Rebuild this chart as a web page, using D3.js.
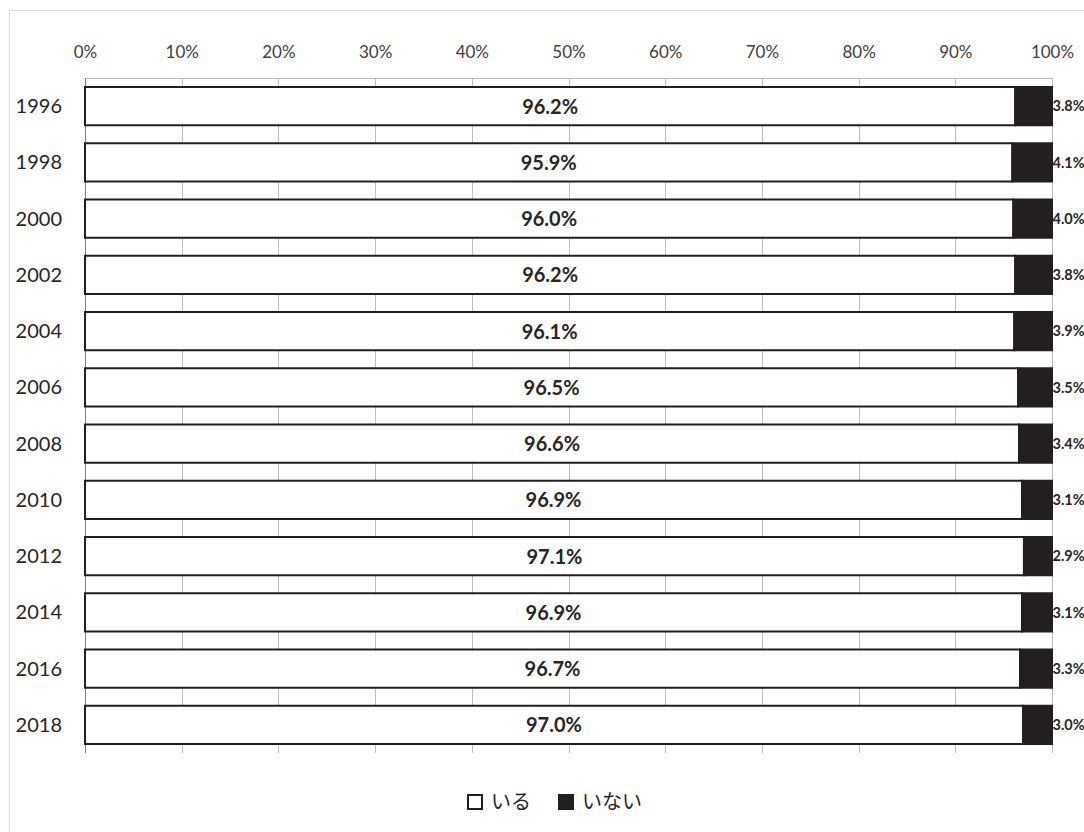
<!DOCTYPE html>
<html><head><meta charset="utf-8">
<script src="https://cdn.jsdelivr.net/npm/d3@7"></script>
<style>body{margin:0;background:#fff}svg{display:block}</style>
</head><body>
<svg id="c" width="1084" height="832"></svg>
<script>
const years = ["1996","1998","2000","2002","2004","2006","2008","2010","2012","2014","2016","2018"];
const iru = [96.2,95.9,96.0,96.2,96.1,96.5,96.6,96.9,97.1,96.9,96.7,97.0];
const inai = [3.8,4.1,4.0,3.8,3.9,3.5,3.4,3.1,2.9,3.1,3.3,3.0];
const seriesNames = ["いる","いない"];
const tickValues = [0,10,20,30,40,50,60,70,80,90,100];

const svg = d3.select("#c");
const font = "Lato, 'Noto Sans CJK JP', sans-serif";
const dark = "#231f20";

svg.append("rect").attr("x",9.5).attr("y",10.5).attr("width",1200).attr("height",900)
  .attr("fill","#fff").attr("stroke","#d9d9d9").attr("stroke-width",1);

const x = d3.scaleLinear().domain([0,100]).range([85,1052]);
const y = d3.scaleBand().domain(years).range([78,753]).paddingInner(0.32).paddingOuter(0.16);

// gridlines
svg.append("g").selectAll("line").data(tickValues).join("line")
  .attr("x1",d=>Math.round(x(d))+0.5).attr("x2",d=>Math.round(x(d))+0.5)
  .attr("y1",78).attr("y2",753).attr("stroke","#bfbfbf").attr("stroke-width",1);
svg.append("line").attr("x1",85).attr("x2",1052).attr("y1",78.5).attr("y2",78.5)
  .attr("stroke","#bfbfbf");
svg.append("line").attr("x1",85.5).attr("x2",85.5).attr("y1",78).attr("y2",753)
  .attr("stroke","#7f7f7f");

// top tick labels
const ax = d3.axisTop(x).tickValues(tickValues).tickFormat(d=>d+"%").tickSize(0).tickPadding(0);
const axg = svg.append("g").attr("transform","translate(0,58)").call(ax);
axg.select(".domain").remove();
axg.selectAll("text").attr("font-family",font).attr("font-size",17).attr("fill","#404040").attr("dy",0);

// year labels
const ay = d3.axisLeft(y).tickSize(0).tickPadding(0);
const ayg = svg.append("g").attr("transform","translate(62,0)").call(ay);
ayg.select(".domain").remove();
ayg.selectAll("text").attr("font-family",font).attr("font-size",20).attr("fill","#262626").attr("dy","0.35em");

const data = years.map((yr,i)=>({yr, a:iru[i], b:inai[i]}));
const g = svg.append("g");
g.selectAll("rect.a").data(data).join("rect").attr("class","a")
  .attr("x",x(0)).attr("y",d=>y(d.yr)).attr("width",d=>x(d.a)-x(0)).attr("height",y.bandwidth())
  .attr("fill","#fff").attr("stroke",dark).attr("stroke-width",2);
g.selectAll("rect.b").data(data).join("rect").attr("class","b")
  .attr("x",d=>x(d.a)).attr("y",d=>y(d.yr)).attr("width",d=>x(d.a+d.b)-x(d.a)).attr("height",y.bandwidth())
  .attr("fill",dark).attr("stroke",dark).attr("stroke-width",2);

g.selectAll("text.a").data(data).join("text").attr("class","a")
  .attr("x",d=>(x(0)+x(d.a))/2).attr("y",d=>y(d.yr)+y.bandwidth()/2).attr("dy","0.38em")
  .attr("text-anchor","middle").attr("font-family",font).attr("font-weight","bold").attr("font-size",20)
  .attr("fill","#262626").text(d=>d.a.toFixed(1)+"%");
g.selectAll("text.b").data(data).join("text").attr("class","b")
  .attr("x",x(100)+0.5).attr("y",d=>y(d.yr)+y.bandwidth()/2).attr("dy","0.36em")
  .attr("text-anchor","start").attr("font-family",font).attr("font-weight","bold").attr("font-size",14.5)
  .attr("fill","#262626").text(d=>d.b.toFixed(1)+"%");

// legend
const leg = svg.append("g");
const legItems = [{name:seriesNames[0],fill:"#fff",x:468},{name:seriesNames[1],fill:dark,x:559}];
legItems.forEach(it=>{
  leg.append("rect").attr("x",it.x).attr("y",795).attr("width",14).attr("height",14)
    .attr("fill",it.fill).attr("stroke",dark).attr("stroke-width",2);
  leg.append("text").attr("x",it.x+23).attr("y",802).attr("dy","0.35em")
    .attr("font-family","'Noto Sans CJK JP', sans-serif").attr("font-size",20).attr("fill","#262626").text(it.name);
});
</script>
</body></html>
